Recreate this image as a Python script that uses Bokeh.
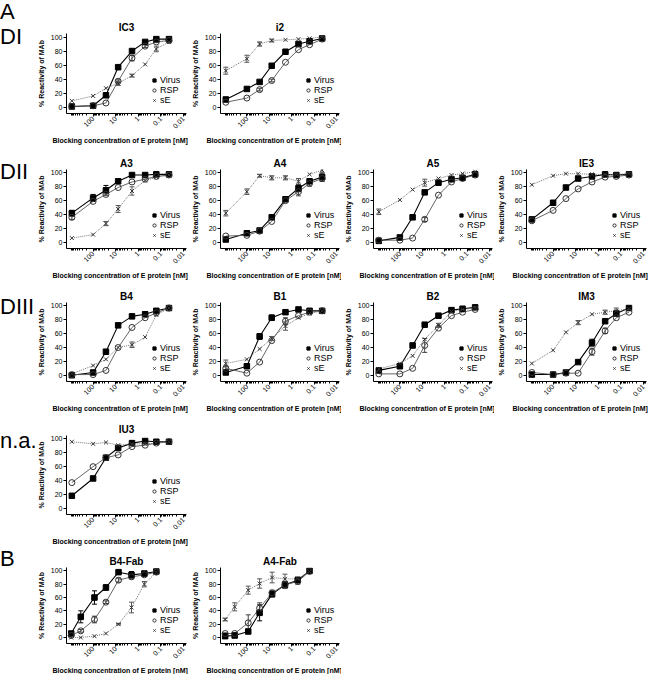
import math
from bokeh.plotting import figure
from bokeh.models import (Range1d, FixedTicker, CustomJSTickFormatter, Legend, LegendItem,
                          Whisker, TeeHead, ColumnDataSource, Div, Title)
from bokeh.layouts import row, column
from bokeh.embed import file_html
from bokeh.resources import INLINE

FONT = "Liberation Sans"

# blocking concentrations (nM) of the dilution series
conc_a = [870, 100, 27, 7.8, 1.9, 0.5, 0.16, 0.044]   # section A panels
conc_b = [930, 350, 87, 27, 7.5, 2.0, 0.54, 0.16]     # section B (Fab) panels
x_ticks = [100, 10, 1, 0.1, 0.01]
y_ticks = [0, 20, 40, 60, 80, 100]
x_label = "Blocking concentration of E protein [nM]"
y_label = "% Reactivity of MAb"
series_names = ["Virus", "RSP", "sE"]

# ---- DI ----
ic3_virus = [1, 2, 17, 57, 80, 93, 97, 97]
ic3_rsp = [1, 2, 6, 37, 70, 87, 93, 95]
ic3_se = [9, 16, 27, 34, 45, 61, 83, 93]
ic3_virus_err = [0, 0, 2, 2, 2, 2, 1, 1]
ic3_rsp_err = [0, 0, 0, 2, 4, 2, 1, 1]
ic3_se_err = [0, 0, 0, 3, 2, 0, 4, 1]

i2_virus = [11, 26, 36, 59, 79, 90, 94, 98]
i2_rsp = [7, 13, 25, 38, 64, 82, 89, 97]
i2_se = [52, 69, 90, 95, 96, 97, 98, 100]
i2_virus_err = [2, 0, 0, 0, 0, 0, 0, 0]
i2_rsp_err = [0, 0, 2, 2, 0, 0, 0, 0]
i2_se_err = [5, 5, 3, 2, 0, 0, 0, 0]

# ---- DII ----
a3_virus = [42, 64, 75, 88, 97, 97, 98, 98]
a3_rsp = [36, 59, 69, 79, 87, 91, 95, 97]
a3_se = [6, 11, 27, 48, 74, 89, 94, 97]
a3_virus_err = [4, 5, 7, 2, 0, 0, 0, 0]
a3_rsp_err = [3, 0, 0, 0, 0, 0, 0, 0]
a3_se_err = [0, 0, 3, 5, 6, 0, 0, 0]

a4_virus = [4, 13, 17, 36, 62, 78, 88, 94]
a4_rsp = [9, 10, 16, 30, 60, 73, 85, 92]
a4_se = [42, 73, 96, 93, 93, 88, 98, 104]
a4_virus_err = [0, 0, 0, 3, 3, 5, 3, 6]
a4_rsp_err = [0, 0, 0, 0, 0, 6, 4, 0]
a4_se_err = [4, 4, 2, 3, 3, 4, 0, 5]

a5_virus = [2, 7, 36, 72, 86, 91, 93, 98]
a5_rsp = [3, 3, 6, 33, 68, 87, 92, 97]
a5_se = [44, 61, 76, 86, 92, 97, 99, 102]
a5_virus_err = [0, 0, 0, 0, 0, 0, 0, 3]
a5_rsp_err = [0, 0, 0, 3, 0, 0, 0, 0]
a5_se_err = [4, 0, 0, 5, 0, 0, 0, 0]

ie3_virus = [33, 57, 79, 92, 95, 98, 97, 98]
ie3_rsp = [31, 46, 63, 77, 87, 94, 95, 97]
ie3_se = [83, 96, 99, 99, 98, 98, 98, 99]
ie3_virus_err = [3, 0, 0, 0, 0, 0, 0, 0]
ie3_rsp_err = [0, 0, 0, 0, 0, 0, 0, 0]
ie3_se_err = [0, 0, 0, 0, 0, 0, 0, 0]

# ---- DIII ----
b4_virus = [0, 4, 34, 72, 85, 88, 93, 97]
b4_rsp = [1, 1, 7, 40, 69, 83, 90, 97]
b4_se = [2, 14, 23, 40, 44, 55, 87, 97]
b4_virus_err = [0, 0, 0, 0, 0, 0, 0, 0]
b4_rsp_err = [0, 0, 0, 0, 0, 0, 0, 0]
b4_se_err = [0, 0, 0, 0, 4, 0, 0, 0]

b1_virus = [4, 13, 56, 83, 91, 95, 93, 93]
b1_rsp = [10, 3, 19, 50, 78, 86, 91, 93]
b1_se = [17, 23, 38, 53, 71, 83, 89, 93]
b1_virus_err = [0, 0, 4, 4, 0, 0, 0, 0]
b1_rsp_err = [3, 0, 0, 0, 5, 0, 0, 0]
b1_se_err = [5, 0, 0, 3, 6, 0, 0, 0]

b2_virus = [7, 13, 43, 73, 86, 94, 96, 98]
b2_rsp = [2, 2, 10, 43, 68, 86, 91, 95]
b2_se = [9, 17, 28, 52, 72, 92, 95, 97]
b2_virus_err = [0, 0, 3, 0, 0, 0, 0, 0]
b2_rsp_err = [0, 0, 0, 10, 0, 0, 0, 0]
b2_se_err = [0, 0, 0, 0, 3, 0, 0, 0]

im3_virus = [1, 1, 4, 19, 47, 78, 89, 97]
im3_rsp = [4, 1, 3, 3, 34, 64, 83, 91]
im3_se = [17, 36, 62, 76, 88, 91, 93, 96]
im3_virus_err = [0, 0, 0, 0, 5, 0, 0, 0]
im3_rsp_err = [0, 0, 0, 0, 5, 4, 0, 0]
im3_se_err = [0, 0, 0, 3, 0, 3, 4, 0]

# ---- n.a. ----
iu3_virus = [18, 43, 73, 87, 94, 97, 96, 96]
iu3_rsp = [37, 60, 73, 77, 89, 91, 94, 96]
iu3_se = [96, 93, 95, 91, 93, 93, 94, 96]
iu3_virus_err = [0, 0, 0, 0, 0, 0, 0, 0]
iu3_rsp_err = [0, 0, 0, 0, 0, 0, 0, 0]
iu3_se_err = [0, 0, 0, 0, 0, 0, 0, 0]

# ---- B: Fab ----
b4fab_virus = [6, 31, 60, 75, 98, 94, 96, 99]
b4fab_rsp = [3, 10, 27, 53, 86, 91, 94, 98]
b4fab_se = [0, 0, 2, 6, 20, 45, 80, 98]
b4fab_virus_err = [3, 9, 10, 4, 1, 5, 2, 1]
b4fab_rsp_err = [2, 2, 5, 2, 3, 3, 2, 1]
b4fab_se_err = [0, 0, 0, 0, 1, 8, 4, 1]

a4fab_virus = [2, 3, 9, 37, 65, 79, 86, 100]
a4fab_rsp = [6, 6, 22, 44, 67, 79, 84, 99]
a4fab_se = [27, 46, 71, 81, 90, 88, 88, 99]
a4fab_virus_err = [1, 1, 2, 12, 4, 5, 3, 1]
a4fab_rsp_err = [1, 1, 12, 8, 4, 5, 4, 1]
a4fab_se_err = [2, 6, 6, 7, 8, 7, 3, 1]

X_START, X_END = 1500, 0.0074
Y_START, Y_END = -9, 105
x_minor = [m * 10.0 ** d for d in range(-3, 4) for m in range(2, 10)]

COL_WIDTHS = [154, 153, 153, 154]
LABEL_W = 34
LB, RB = 26, 2


def add_err(p, conc, vals, errs, color):
    xs = [c for c, e in zip(conc, errs) if e > 0]
    lo = [v - e for v, e in zip(vals, errs) if e > 0]
    hi = [v + e for v, e in zip(vals, errs) if e > 0]
    if not xs:
        return
    src = ColumnDataSource(dict(x=xs, lower=lo, upper=hi))
    w = Whisker(base="x", lower="lower", upper="upper", source=src, dimension="height",
                line_color=color, line_width=1,
                upper_head=TeeHead(size=5, line_color=color, line_width=1),
                lower_head=TeeHead(size=5, line_color=color, line_width=1))
    p.add_layout(w)


def make_panel(name, conc, virus, rsp, se, ev, er, es, col, height, top, bottom):
    width = COL_WIDTHS[col]
    p = figure(width=width, height=height, x_axis_type="log",
               x_range=Range1d(X_START, X_END), y_range=Range1d(Y_START, Y_END),
               output_backend="svg", toolbar_location=None,
               min_border_left=LB, min_border_right=RB,
               min_border_top=top, min_border_bottom=bottom, title=name)
    p.title.align = "center"
    p.title.text_font = FONT
    p.title.text_font_size = "10px"
    p.title.text_font_style = "bold"
    p.title.text_color = "black"
    p.title.standoff = 2
    p.grid.visible = False
    p.outline_line_color = None
    p.background_fill_color = None
    p.border_fill_color = None

    p.line(conc, virus, line_color="black", line_width=1.1)
    p.line(conc, rsp, line_color="#555555", line_width=0.9)
    p.line(conc, se, line_color="#777777", line_width=1, line_dash="1 1")
    add_err(p, conc, virus, ev, "black")
    add_err(p, conc, rsp, er, "#444444")
    add_err(p, conc, se, es, "#555555")
    rv = p.scatter(conc, virus, marker="square", size=5.5, fill_color="black", line_color="black")
    rr = p.scatter(conc, rsp, marker="circle", size=6, fill_alpha=0, line_color="#333333", line_width=1)
    rs = p.scatter(conc, se, marker="x", size=5.5, line_color="#333333", line_width=1)

    xa = p.xaxis[0]
    xa.ticker = FixedTicker(ticks=x_ticks, minor_ticks=x_minor)
    xa.formatter = CustomJSTickFormatter(code="return String(Number(tick.toPrecision(3)));")
    xa.major_label_orientation = math.pi / 4
    ya = p.yaxis[0]
    ya.ticker = FixedTicker(ticks=y_ticks, minor_ticks=[])
    ya.axis_label = y_label
    for ax in (xa, ya):
        ax.major_tick_in = 0
        ax.major_tick_out = 3
        ax.minor_tick_in = 0
        ax.minor_tick_out = 2
        ax.axis_line_color = "black"
        ax.major_tick_line_color = "black"
        ax.minor_tick_line_color = "black"
        ax.major_label_text_font = FONT
        ax.major_label_text_font_size = "7px"
        ax.major_label_text_color = "black"
        ax.major_label_standoff = 1
        ax.axis_label_text_font = FONT
        ax.axis_label_text_font_size = "7px"
        ax.axis_label_text_font_style = "bold"
        ax.axis_label_text_color = "black"
        ax.axis_label_standoff = 3

    # x-axis caption, placed under the tick labels and shifted left like the original
    cap = Title(text=x_label, align="left", offset=-14, standoff=2, text_color="black",
                text_font=FONT, text_font_size="7px", text_font_style="bold")
    p.add_layout(cap, "below")

    leg = Legend(items=[LegendItem(label=series_names[0], renderers=[rv]),
                        LegendItem(label=series_names[1], renderers=[rr]),
                        LegendItem(label=series_names[2], renderers=[rs])],
                 location=(84, 8), border_line_color=None, background_fill_alpha=0,
                 padding=0, margin=0, spacing=-2, glyph_width=8, glyph_height=8,
                 label_standoff=2, label_height=8, label_width=22, label_text_font=FONT,
                 label_text_font_size="9px", label_text_color="black",
                 label_text_line_height=1.0)
    p.add_layout(leg)
    return p


LBL = "font-family:'Liberation Sans';font-size:22px;line-height:24px;white-space:nowrap;color:black;"


def label_div(html, height):
    return Div(text=html, width=LABEL_W, height=height, margin=0)


H1, H2, H3, H4, H5 = 154, 133, 133, 127, 127

r1 = row(label_div(f"<div style=\"{LBL}\">A</div>"
                   f"<div style=\"{LBL}margin-top:1px\">DI</div>", H1),
         make_panel("IC3", conc_a, ic3_virus, ic3_rsp, ic3_se, ic3_virus_err, ic3_rsp_err, ic3_se_err, 0, H1, 33, 41),
         make_panel("i2", conc_a, i2_virus, i2_rsp, i2_se, i2_virus_err, i2_rsp_err, i2_se_err, 1, H1, 33, 41),
         spacing=0)
r2 = row(label_div(f"<div style=\"{LBL}margin-top:6px\">DII</div>", H2),
         make_panel("A3", conc_a, a3_virus, a3_rsp, a3_se, a3_virus_err, a3_rsp_err, a3_se_err, 0, H2, 14, 39),
         make_panel("A4", conc_a, a4_virus, a4_rsp, a4_se, a4_virus_err, a4_rsp_err, a4_se_err, 1, H2, 14, 39),
         make_panel("A5", conc_a, a5_virus, a5_rsp, a5_se, a5_virus_err, a5_rsp_err, a5_se_err, 2, H2, 14, 39),
         make_panel("IE3", conc_a, ie3_virus, ie3_rsp, ie3_se, ie3_virus_err, ie3_rsp_err, ie3_se_err, 3, H2, 14, 39),
         spacing=0)
r3 = row(label_div(f"<div style=\"{LBL}margin-top:8px\">DIII</div>", H3),
         make_panel("B4", conc_a, b4_virus, b4_rsp, b4_se, b4_virus_err, b4_rsp_err, b4_se_err, 0, H3, 14, 39),
         make_panel("B1", conc_a, b1_virus, b1_rsp, b1_se, b1_virus_err, b1_rsp_err, b1_se_err, 1, H3, 14, 39),
         make_panel("B2", conc_a, b2_virus, b2_rsp, b2_se, b2_virus_err, b2_rsp_err, b2_se_err, 2, H3, 14, 39),
         make_panel("IM3", conc_a, im3_virus, im3_rsp, im3_se, im3_virus_err, im3_rsp_err, im3_se_err, 3, H3, 14, 39),
         spacing=0)
r4 = row(label_div(f"<div style=\"{LBL}margin-top:9px\">n.a.</div>", H4),
         make_panel("IU3", conc_a, iu3_virus, iu3_rsp, iu3_se, iu3_virus_err, iu3_rsp_err, iu3_se_err, 0, H4, 14, 33),
         spacing=0)
r5 = row(label_div(f"<div style=\"{LBL}margin-top:0px\">B</div>", H5),
         make_panel("B4-Fab", conc_b, b4fab_virus, b4fab_rsp, b4fab_se, b4fab_virus_err, b4fab_rsp_err, b4fab_se_err, 0, H5, 20, 27),
         make_panel("A4-Fab", conc_b, a4fab_virus, a4fab_rsp, a4fab_se, a4fab_virus_err, a4fab_rsp_err, a4fab_se_err, 1, H5, 20, 27),
         spacing=0)

layout = column(r1, r2, r3, r4, r5, spacing=0)

with open("out.html", "w") as f:
    f.write(file_html(layout, INLINE))
